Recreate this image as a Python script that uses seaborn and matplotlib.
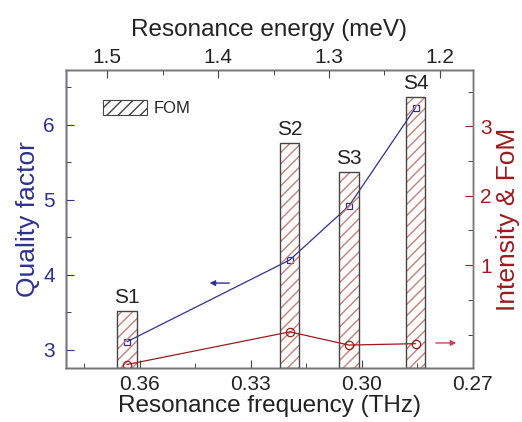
import matplotlib
matplotlib.use("Agg")
import numpy as np
import pandas as pd
import matplotlib.pyplot as plt
import seaborn as sns
from matplotlib.patches import Patch
from matplotlib.ticker import MultipleLocator, FormatStrFormatter

# values
states = ['S1', 'S2', 'S3', 'S4']
freq = [0.3635, 0.3195, 0.3035, 0.2855]      # THz
quality = [3.11, 4.20, 4.92, 6.23]
intensity = [-0.43, 0.04, -0.15, -0.13]
fom = [0.34, 2.76, 2.34, 3.42]

df = pd.DataFrame({'state': states, 'freq': freq, 'quality': quality,
                   'intensity': intensity, 'fom': fom})

sns.set_style('ticks')
plt.rcParams['font.family'] = ['Liberation Sans', 'DejaVu Sans']

blue = '#2e3192'
red = '#9b1c1f'
grey = '#444444'
text = '#222222'

fig = plt.figure(figsize=(5.22, 4.22), dpi=100)
ax = fig.add_axes([0.1264, 0.128, 0.7796, 0.706])
ax2 = ax.twinx()
ax3 = ax.twiny()

r_lo, r_hi = -0.48, 3.81

# FOM bars: reddish hatch first, grey outline on top
ax2.bar(df['freq'], df['fom'] - r_lo, bottom=r_lo, width=0.0052,
        facecolor='none', edgecolor='#c77f78', hatch='///', linewidth=0)
ax2.bar(df['freq'], df['fom'] - r_lo, bottom=r_lo, width=0.0052,
        facecolor='none', edgecolor=grey, linewidth=1.0)
for _, row in df.iterrows():
    ax2.annotate(row['state'], (row['freq'], row['fom']), xytext=(0, 3),
                 textcoords='offset points', ha='center', va='bottom',
                 fontsize=15, color=text)

sns.lineplot(data=df, x='freq', y='quality', ax=ax, color=blue, lw=0.9,
             marker='s', markersize=5, mfc='none', mec=blue, mew=0.9)
sns.lineplot(data=df, x='freq', y='intensity', ax=ax2, color=red, lw=0.9,
             marker='o', markersize=6, mfc='none', mec=red, mew=0.9)

ax.set_xlim(0.38, 0.27)
ax.set_ylim(2.76, 6.73)
ax2.set_ylim(r_lo, r_hi)
ax3.set_xlim(1.537, 1.1703)

ax.xaxis.set_major_locator(MultipleLocator(0.03))
ax.xaxis.set_minor_locator(MultipleLocator(0.015))
ax.yaxis.set_major_locator(MultipleLocator(1))
ax.yaxis.set_minor_locator(MultipleLocator(0.5))
ax2.yaxis.set_minor_locator(MultipleLocator(0.5))
ax2.set_yticks([1, 2, 3])
ax3.xaxis.set_major_locator(MultipleLocator(0.1))
ax3.xaxis.set_minor_locator(MultipleLocator(0.05))
ax.xaxis.set_major_formatter(FormatStrFormatter('%.2f'))
ax3.xaxis.set_major_formatter(FormatStrFormatter('%.1f'))

for a in (ax, ax2, ax3):
    a.tick_params(which='both', direction='in', labelsize=15, pad=4)
    a.tick_params(which='major', length=6)
    a.tick_params(which='minor', length=3.5)
ax.tick_params(axis='y', colors=blue, labelcolor=blue, pad=8)
ax2.tick_params(axis='y', colors=red, labelcolor=red, pad=5)
ax.tick_params(axis='x', colors=grey, labelcolor=text, pad=5)
ax3.tick_params(axis='x', colors=grey, labelcolor=text, pad=2)

for a in (ax, ax2, ax3):
    for s in a.spines.values():
        s.set_color('#777777')
        s.set_linewidth(1.0)
ax2.spines['left'].set_color(blue)
ax2.spines['right'].set_color('#d9a0a0')

ax.set_xlabel('Resonance frequency (THz)', fontsize=17.5, color=text, labelpad=1)
ax3.set_xlabel('Resonance energy (meV)', fontsize=17.5, color=text, labelpad=9)
ax.set_ylabel('Quality factor', fontsize=19, color=blue, labelpad=2)
ax2.set_ylabel('Intensity & FoM', fontsize=19, color=red, labelpad=3)

# direction arrows
ax.annotate('', xy=(0.346, 0.285), xytext=(0.408, 0.285), xycoords='axes fraction',
            arrowprops=dict(arrowstyle='-|>', color=blue, lw=1, mutation_scale=8))
ax.annotate('', xy=(0.966, 0.084), xytext=(0.902, 0.084), xycoords='axes fraction',
            arrowprops=dict(arrowstyle='-|>', color='#d0405a', lw=1, mutation_scale=8))

handle = Patch(facecolor='none', edgecolor=grey, hatch='///', linewidth=0.8)
ax2.legend([handle], ['FOM'], loc='upper left', bbox_to_anchor=(0.055, 0.95),
           frameon=False, fontsize=12, handlelength=2.6, handleheight=1.0,
           handletextpad=0.4)

fig.savefig('out.png', dpi=100)
